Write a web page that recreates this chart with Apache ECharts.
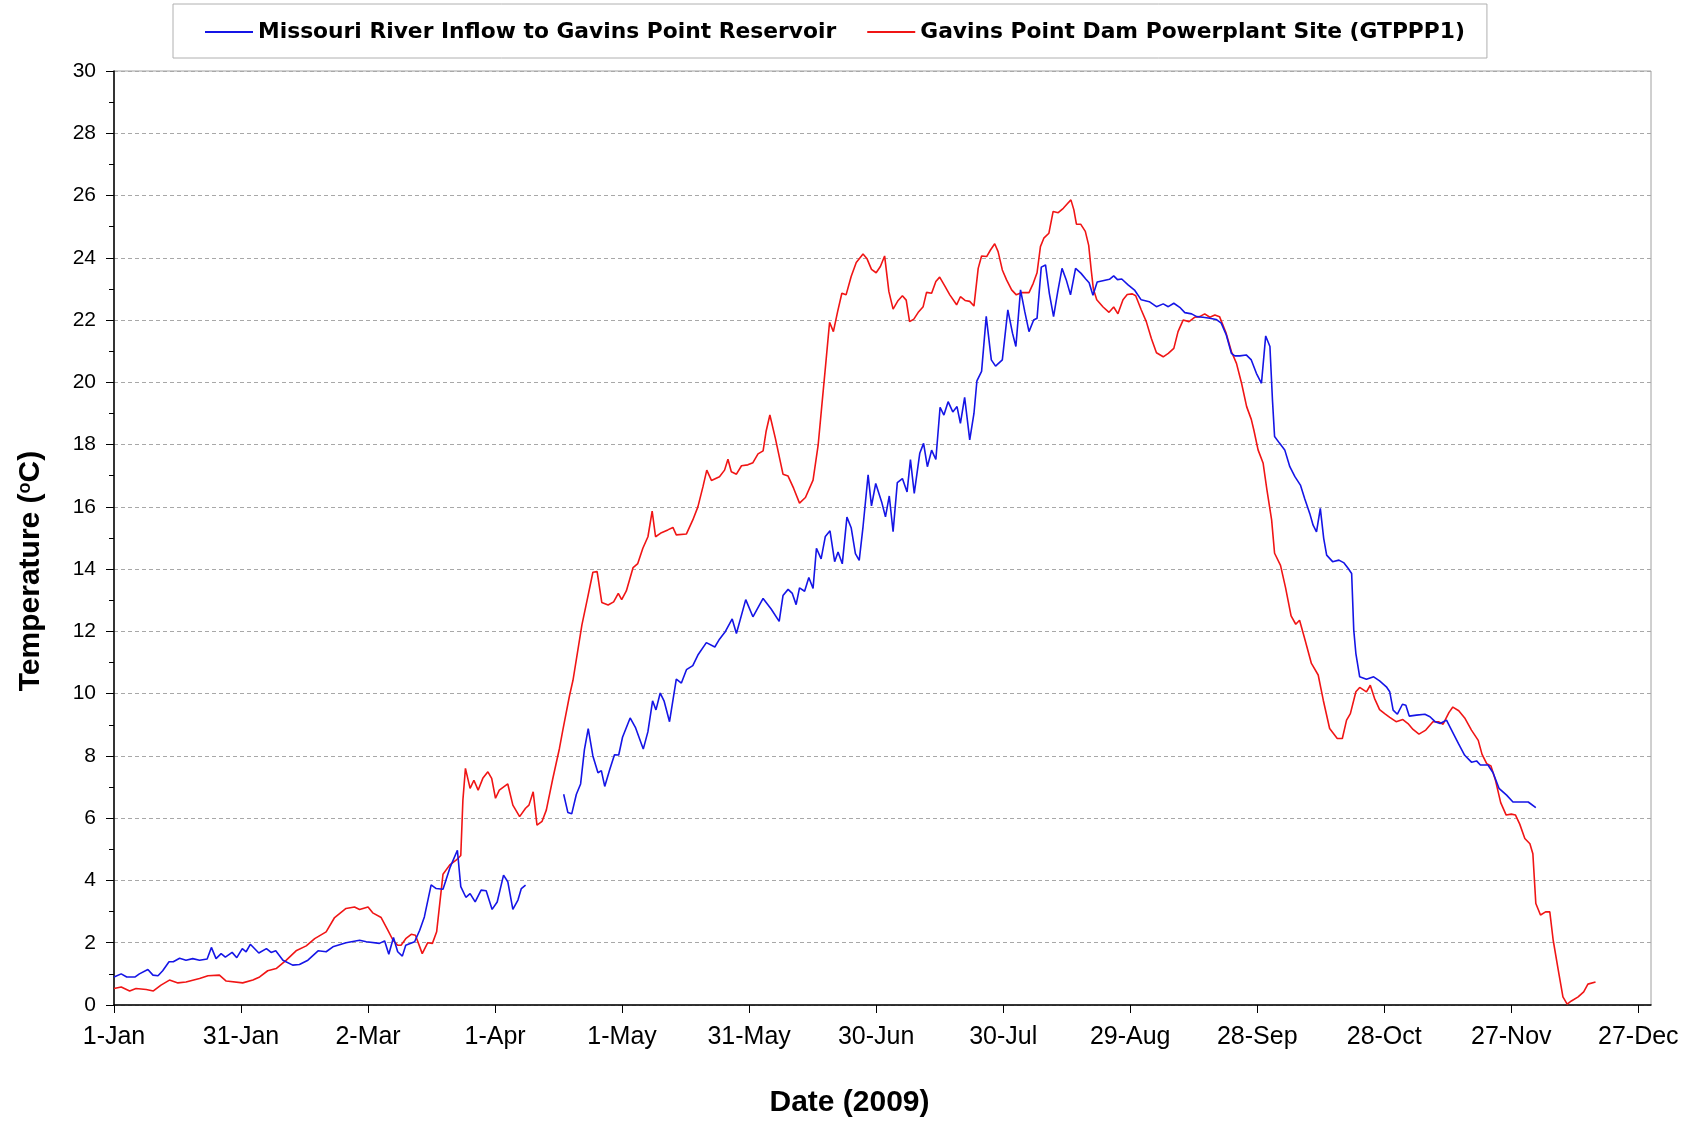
<!DOCTYPE html>
<html>
<head>
<meta charset="utf-8">
<title>Gavins Point water temperature 2009</title>
<script src="https://cdn.jsdelivr.net/npm/echarts@6/dist/echarts.min.js"></script>
<style>
  html, body { margin: 0; padding: 0; background: #fff; }
  #chart { width: 1694px; height: 1123px; }
</style>
</head>
<body>
<div id="chart"></div>
<script>
// x = day of year 2009 (0 = 1-Jan), y = temperature in deg C
const dateLabels = ["1-Jan", "31-Jan", "2-Mar", "1-Apr", "1-May", "31-May", "30-Jun",
  "30-Jul", "29-Aug", "28-Sep", "28-Oct", "27-Nov", "27-Dec"];
const yTicks = [0, 2, 4, 6, 8, 10, 12, 14, 16, 18, 20, 22, 24, 26, 28, 30];

// Missouri River inflow, first stretch (data stops early April)
const inflowWinter = [
  [0, 0.9], [1.7, 1.0], [3, 0.9], [5, 0.9], [6, 1.0], [8, 1.14], [9.2, 0.96], [10.4, 0.94],
  [11.5, 1.1], [13, 1.39], [14, 1.39], [15.5, 1.5], [17, 1.44], [18.6, 1.49], [20.2, 1.44],
  [22, 1.48], [23, 1.85], [24.1, 1.49], [25.3, 1.65], [26.3, 1.54], [27.9, 1.69], [29, 1.52],
  [30.3, 1.81], [31.2, 1.71], [32.2, 1.95], [34.2, 1.67], [36, 1.81], [37.1, 1.69], [38.2, 1.74],
  [39.9, 1.44], [42.2, 1.28], [43.8, 1.3], [45.8, 1.44], [48.2, 1.74], [50.1, 1.71], [51.7, 1.87],
  [54.8, 2.0], [58, 2.08], [59.6, 2.03], [62.7, 1.98], [63.9, 2.06], [64.9, 1.63], [66, 2.17],
  [67, 1.71], [68.1, 1.57], [68.9, 1.92], [71, 2.03], [72.2, 2.4], [73.3, 2.83], [74.9, 3.86],
  [76.1, 3.74], [77.7, 3.72], [79.4, 4.43], [81.1, 4.97], [81.9, 3.8], [83.1, 3.46], [84.1, 3.58],
  [85.3, 3.31], [86.7, 3.69], [87.9, 3.67], [89.3, 3.07], [90.5, 3.31], [92, 4.17], [93, 3.96],
  [94.2, 3.07], [95.4, 3.37], [96.2, 3.74], [97.2, 3.85]
];

// Missouri River inflow, from mid April on
const inflowRest = [
  [106.2, 6.77], [107.2, 6.18], [108.1, 6.14], [109.2, 6.77], [110.2, 7.1], [111.1, 8.2], [112, 8.88],
  [113.1, 8.0], [114.3, 7.46], [115.1, 7.53], [115.9, 7.02], [117.1, 7.57], [118.2, 8.04], [119.2, 8.03],
  [120.1, 8.6], [121.9, 9.22], [123.2, 8.9], [125, 8.22], [126.1, 8.78], [127.2, 9.77], [128, 9.48],
  [129, 10.02], [129.9, 9.77], [131.2, 9.1], [132.8, 10.47], [134, 10.34], [135.2, 10.77], [136.7, 10.9],
  [137.9, 11.24], [139.9, 11.64], [141.9, 11.5], [143, 11.75], [144.4, 12.0], [146, 12.4], [147, 11.93],
  [149.2, 13.02], [150.9, 12.47], [153.3, 13.06], [155.2, 12.72], [157.1, 12.32], [158, 13.15],
  [159.2, 13.35], [160.2, 13.22], [161.1, 12.86], [161.9, 13.4], [163.1, 13.29], [164.1, 13.73],
  [165.1, 13.38], [165.9, 14.67], [167, 14.33], [168, 15.05], [169.1, 15.23], [170.2, 14.24], [171, 14.55],
  [172, 14.17], [173.1, 15.67], [174.1, 15.33], [175.1, 14.5], [176, 14.28], [176.9, 15.36], [178.1, 17.03],
  [178.9, 16.03], [179.9, 16.75], [181.3, 16.16], [182.2, 15.68], [183.1, 16.35], [184, 15.2], [185, 16.78],
  [186.2, 16.91], [187.3, 16.48], [188.1, 17.52], [189, 16.43], [190.3, 17.72], [191.2, 18.04],
  [192.1, 17.29], [193.1, 17.82], [194.1, 17.52], [195.1, 19.2], [196, 18.95], [197, 19.38], [198.1, 19.05],
  [199.1, 19.22], [199.9, 18.68], [200.9, 19.52], [202.1, 18.15], [203.1, 19.0], [203.8, 20.05],
  [204.9, 20.35], [206, 22.12], [207.2, 20.72], [208.2, 20.52], [209.8, 20.72], [211.1, 22.33],
  [212.2, 21.58], [213, 21.15], [214.1, 22.97], [215.1, 22.27], [216.1, 21.63], [217.2, 22.0], [218, 22.06],
  [219, 23.7], [220, 23.77], [220.9, 22.86], [221.9, 22.11], [222.9, 22.92], [223.9, 23.66], [224.9, 23.29],
  [225.9, 22.81], [227.1, 23.66], [228.4, 23.5], [229.5, 23.32], [230.3, 23.2], [231.2, 22.8],
  [232.2, 23.22], [233.8, 23.27], [235.1, 23.31], [236.1, 23.42], [237, 23.3], [238, 23.32], [239.5, 23.13],
  [241.1, 22.95], [242.6, 22.65], [244.5, 22.59], [246.2, 22.43], [247.8, 22.52], [249, 22.43],
  [250.3, 22.54], [251.7, 22.41], [252.9, 22.24], [254.5, 22.2], [255.7, 22.11], [257.2, 22.09],
  [258.8, 22.06], [260.3, 22.02], [261.5, 21.9], [262.7, 21.52], [263.9, 20.93], [264.7, 20.85],
  [265.9, 20.85], [267.4, 20.88], [268.6, 20.72], [269.8, 20.29], [271, 19.97], [272, 21.49], [273, 21.15],
  [273.6, 19.43], [274.1, 18.26], [275.3, 18.04], [276.5, 17.83], [277.7, 17.29], [278.9, 16.97],
  [280.2, 16.7], [281.2, 16.27], [282.4, 15.79], [283.2, 15.41], [284, 15.2], [284.9, 15.95], [285.7, 14.99],
  [286.4, 14.45], [287.8, 14.24], [289.3, 14.29], [290.5, 14.2], [291.5, 14.02], [292.3, 13.86],
  [292.8, 12.04], [293.3, 11.29], [294.2, 10.54], [295.8, 10.46], [297.5, 10.54], [298.9, 10.41],
  [300.5, 10.22], [301.3, 10.06], [302.1, 9.47], [303.1, 9.34], [304.3, 9.66], [305.1, 9.63], [305.9, 9.28],
  [307.6, 9.31], [309.6, 9.34], [310.8, 9.26], [312, 9.1], [313.2, 9.04], [314.7, 9.15], [315.9, 8.83],
  [317.5, 8.4], [319, 8.02], [320.6, 7.8], [321.8, 7.84], [322.7, 7.71], [324.5, 7.71], [325.7, 7.46],
  [327.1, 6.96], [328.9, 6.74], [330.4, 6.52], [332, 6.52], [334, 6.52], [335.8, 6.34]
];

// Gavins Point Dam powerplant site (GTPPP1)
const powerplant = [
  [0, 0.53], [1.7, 0.58], [3.7, 0.45], [5.2, 0.53], [7.6, 0.5], [9.3, 0.45], [11.1, 0.64], [13.1, 0.8],
  [15.1, 0.71], [17, 0.74], [20.2, 0.85], [22.2, 0.94], [24.9, 0.96], [26.5, 0.77], [30.4, 0.71],
  [32.8, 0.8], [34.4, 0.9], [36.3, 1.1], [38.3, 1.17], [40.7, 1.44], [43, 1.74], [45.4, 1.9], [47.4, 2.13],
  [50.1, 2.35], [52.1, 2.81], [54.8, 3.1], [56.8, 3.15], [58, 3.07], [60, 3.15], [61.1, 2.96], [63.1, 2.81],
  [64.7, 2.4], [65.9, 2.08], [67, 1.92], [67.8, 1.92], [68.9, 2.13], [70.2, 2.27], [71.2, 2.24],
  [72.8, 1.65], [74.1, 2.0], [75.2, 1.98], [76.2, 2.35], [77.7, 4.2], [79.3, 4.5], [80.8, 4.65],
  [81.9, 4.8], [82.4, 6.58], [83, 7.6], [84.1, 6.96], [85, 7.22], [86, 6.9], [87.1, 7.28], [88.3, 7.49],
  [89.2, 7.28], [90.1, 6.64], [91, 6.9], [93, 7.1], [94.2, 6.42], [95.8, 6.05], [97.2, 6.32], [98, 6.42],
  [99, 6.85], [99.9, 5.78], [101.1, 5.9], [102.1, 6.26], [103.6, 7.25], [105.2, 8.24], [106, 8.83],
  [107.6, 9.95], [108.4, 10.43], [110.5, 12.2], [111.9, 13.11], [113.1, 13.9], [114.1, 13.92],
  [115.2, 12.93], [116.7, 12.85], [118, 12.95], [119.1, 13.22], [119.9, 13.02], [121, 13.3], [122.6, 14.05],
  [123.7, 14.18], [124.9, 14.67], [126.1, 15.04], [127.1, 15.86], [127.9, 15.04], [129.3, 15.17],
  [130.8, 15.26], [132, 15.34], [132.8, 15.1], [135.2, 15.13], [136.7, 15.58], [137.9, 16.0], [139.1, 16.65],
  [140, 17.18], [141.1, 16.85], [143, 16.97], [144.2, 17.18], [145, 17.53], [145.8, 17.13], [147, 17.05],
  [148.2, 17.32], [149.7, 17.35], [150.9, 17.42], [152.1, 17.7], [153.3, 17.8], [154, 18.42], [154.9, 18.95],
  [156.2, 18.2], [158, 17.05], [159.2, 16.99], [160.5, 16.6], [161.9, 16.12], [163.3, 16.3], [165.1, 16.86],
  [166.3, 17.98], [167.2, 19.3], [168.1, 20.6], [169, 21.93], [169.9, 21.63], [170.9, 22.27], [171.9, 22.86],
  [172.9, 22.81], [174.1, 23.4], [175.3, 23.85], [176.9, 24.12], [177.8, 23.98], [178.9, 23.63], [180, 23.52],
  [181, 23.72], [182, 24.06], [183, 22.92], [184, 22.35], [185.2, 22.63], [186.2, 22.78], [187.1, 22.64],
  [187.9, 21.95], [188.9, 22.03], [189.9, 22.24], [191.1, 22.43], [191.9, 22.89], [193.1, 22.86],
  [194.1, 23.24], [195, 23.38], [196.2, 23.1], [197.4, 22.81], [199, 22.49], [199.9, 22.75], [201, 22.63],
  [202.1, 22.6], [203.1, 22.45], [204.1, 23.66], [204.9, 24.06], [206.1, 24.04], [207, 24.25], [208, 24.45],
  [208.8, 24.2], [209.8, 23.61], [210.8, 23.29], [212, 22.97], [213.1, 22.81], [214.3, 22.88], [216.1, 22.88],
  [217.1, 23.18], [218, 23.52], [218.8, 24.36], [219.6, 24.63], [220.8, 24.79], [221.8, 25.49], [223, 25.45],
  [224.2, 25.59], [225.1, 25.73], [226, 25.86], [226.7, 25.54], [227.3, 25.08], [228.3, 25.08],
  [229.4, 24.85], [230.2, 24.4], [230.8, 23.6], [231.3, 23.0], [232.1, 22.65], [233.6, 22.42], [235, 22.25],
  [236.1, 22.42], [237.1, 22.2], [238.3, 22.65], [239.3, 22.82], [240.5, 22.84], [241.3, 22.78],
  [242.6, 22.33], [243.8, 21.95], [245, 21.41], [246.2, 20.95], [247.8, 20.82], [249, 20.93], [250.3, 21.09],
  [251.3, 21.63], [252.5, 22.0], [253.9, 21.95], [255.2, 22.09], [256.4, 22.11], [257.6, 22.2],
  [258.8, 22.09], [260, 22.16], [261.1, 22.11], [262.6, 21.6], [263.9, 20.99], [265.1, 20.61],
  [266.3, 19.97], [267.5, 19.22], [268.6, 18.81], [269.2, 18.47], [270.2, 17.83], [271.4, 17.4],
  [272.3, 16.54], [273.4, 15.58], [274.1, 14.51], [275.5, 14.12], [276.7, 13.4], [278, 12.5], [279.1, 12.23],
  [280, 12.36], [281.2, 11.77], [282.8, 10.97], [284.4, 10.6], [285.6, 9.79], [287.1, 8.88], [288.9, 8.56],
  [290.1, 8.56], [291.1, 9.15], [292, 9.36], [293.3, 10.06], [294.2, 10.2], [295.8, 10.06], [296.7, 10.27],
  [297.7, 9.85], [298.9, 9.49], [300.1, 9.36], [301.3, 9.24], [302.8, 9.1], [304.4, 9.17], [305.6, 9.04],
  [306.8, 8.85], [308.2, 8.7], [309.8, 8.83], [311.5, 9.1], [312.8, 9.1], [313.9, 9.02], [315.3, 9.4],
  [316.2, 9.57], [317.6, 9.45], [319, 9.22], [320.6, 8.83], [322.2, 8.5], [323.1, 8.05], [324.2, 7.75],
  [325.2, 7.68], [326.3, 7.2], [327.5, 6.5], [328.8, 6.1], [330, 6.13], [331, 6.1], [332, 5.81],
  [333.2, 5.35], [334.4, 5.18], [335.1, 4.86], [335.8, 3.26], [336.9, 2.89], [338.1, 2.99], [339.1, 2.99],
  [339.9, 2.08], [341.1, 1.12], [342.2, 0.26], [343.2, 0.03], [344.2, 0.13], [345.8, 0.26], [347.1, 0.42],
  [348.1, 0.67], [349.9, 0.74]
];

const dayTicks = dateLabels.map((_, i) => i * 30);
const font = "Liberation Sans, Arial, sans-serif";

const chart = echarts.init(document.getElementById("chart"), null, { renderer: "canvas" });

chart.setOption({
  backgroundColor: "#fff",
  animation: false,
  legend: {
    left: 173,
    top: 4,
    padding: [17, 22, 15, 32],
    itemGap: 31,
    itemWidth: 48,
    itemHeight: 2,
    icon: "rect",
    borderColor: "#b0b0b0",
    borderWidth: 1,
    textStyle: { fontFamily: "DejaVu Sans", fontSize: 21.8, fontWeight: "bold", color: "#000" },
    data: ["Missouri River Inflow to Gavins Point Reservoir", "Gavins Point Dam Powerplant Site (GTPPP1)"]
  },
  grid: {
    left: 114,
    right: 43,
    top: 71,
    bottom: 118,
    show: true,
    borderColor: "#a0a0a0",
    borderWidth: 1
  },
  xAxis: {
    type: "value",
    min: 0,
    max: 363,
    name: "Date (2009)",
    nameLocation: "middle",
    nameGap: 83,
    // the title sits a little left of the plot centre in the original
    nameTextStyle: { fontFamily: font, fontSize: 30, fontWeight: "bold", color: "#000", padding: [0, 66, 0, 0] },
    axisLine: { show: true, onZero: false, lineStyle: { color: "#000", width: 1.5 } },
    axisTick: { show: true, customValues: dayTicks, length: 8, lineStyle: { color: "#000" } },
    axisLabel: {
      customValues: dayTicks,
      margin: 20,
      fontFamily: font,
      fontSize: 25,
      color: "#000",
      formatter: (v) => dateLabels[Math.round(v / 30)] || ""
    },
    splitLine: { show: false }
  },
  yAxis: {
    type: "value",
    min: 0,
    max: 30,
    interval: 2,
    name: "Temperature ({sup|o}C)",
    nameLocation: "middle",
    nameRotate: 90,
    nameGap: 68,
    nameTextStyle: {
      fontFamily: font, fontSize: 30, fontWeight: "bold", color: "#000",
      // pushes the title below the plot centre, as in the original
      padding: [0, 66, 0, 0],
      rich: { sup: { fontFamily: font, fontSize: 18, fontWeight: "bold", color: "#000", verticalAlign: "top", padding: [0, 0, 12, 0] } }
    },
    axisLine: { show: true, lineStyle: { color: "#000", width: 1.5 } },
    axisTick: { show: true, length: 8, lineStyle: { color: "#000" } },
    minorTick: { show: true, splitNumber: 2, length: 5, lineStyle: { color: "#000" } },
    axisLabel: {
      margin: 18,
      fontFamily: font,
      fontSize: 21,
      color: "#000",
      customValues: yTicks
    },
    splitLine: { show: true, lineStyle: { color: "#a8a8a8", type: [4, 3], width: 1 } }
  },
  series: [
    {
      name: "Missouri River Inflow to Gavins Point Reservoir",
      type: "line",
      showSymbol: false,
      symbol: "none",
      connectNulls: false,
      data: [...inflowWinter, [101, null], ...inflowRest],
      itemStyle: { color: "#1515e6" },
      lineStyle: { color: "#1515e6", width: 1.6 },
      z: 3
    },
    {
      name: "Gavins Point Dam Powerplant Site (GTPPP1)",
      type: "line",
      showSymbol: false,
      symbol: "none",
      data: powerplant,
      itemStyle: { color: "#f01515" },
      lineStyle: { color: "#f01515", width: 1.6 },
      z: 2
    }
  ]
});
</script>
</body>
</html>
